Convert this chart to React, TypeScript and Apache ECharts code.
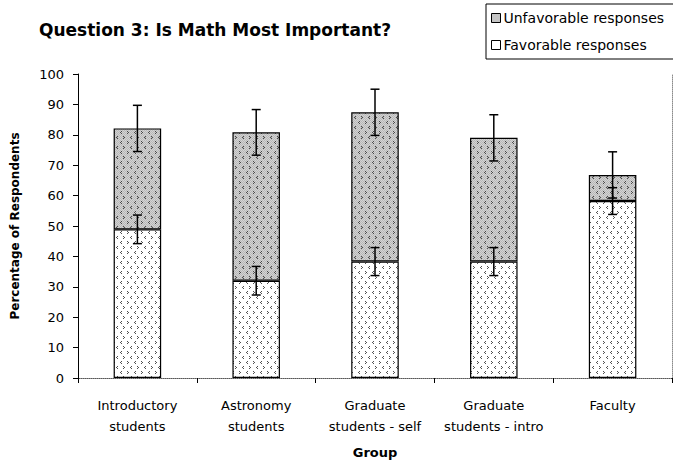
import React, { useEffect, useRef } from "react";
import * as echarts from "echarts";

const categories = [
  "Introductory\nstudents",
  "Astronomy\nstudents",
  "Graduate\nstudents - self",
  "Graduate\nstudents - intro",
  "Faculty",
];
const favorable = [48.9, 32.0, 38.3, 38.3, 58.2];
const unfavorable = [33.2, 48.8, 49.1, 40.7, 8.6];
const totalError = [7.6, 7.5, 7.6, 7.6, 7.6];
const favorableError = [4.7, 4.7, 4.6, 4.6, 4.4];
const yTicks = [0, 10, 20, 30, 40, 50, 60, 70, 80, 90, 100];

function makePattern(gray: boolean): HTMLCanvasElement {
  const c = document.createElement("canvas");
  c.width = 14;
  c.height = 10;
  const ctx = c.getContext("2d")!;
  if (gray) {
    for (let y = 0; y < 10; y++) {
      for (let x = 0; x < 14; x++) {
        ctx.fillStyle = (x + y) % 2 === 0 ? "#b9b9b9" : "#d2d2d2";
        ctx.fillRect(x, y, 1, 1);
      }
    }
  } else {
    ctx.fillStyle = "#ffffff";
    ctx.fillRect(0, 0, 14, 10);
  }
  ctx.fillStyle = gray ? "#4a4a4a" : "#505050";
  const right = (x: number, y: number) => {
    ctx.fillRect(x, y, 1, 1);
    ctx.fillRect(x + 1, y + 1, 1, 1);
    ctx.fillRect(x, y + 2, 1, 1);
  };
  const left = (x: number, y: number) => {
    ctx.fillRect(x + 1, y, 1, 1);
    ctx.fillRect(x, y + 1, 1, 1);
    ctx.fillRect(x + 1, y + 2, 1, 1);
  };
  right(1, 1);
  left(8, 1);
  left(4, 6);
  right(11, 6);
  return c;
}

export default function App() {
  const ref = useRef<HTMLDivElement>(null);
  useEffect(() => {
    if (!ref.current) return;
    const chart = echarts.init(ref.current, null, { renderer: "svg" });
    const grayPat: any = { image: makePattern(true), repeat: "repeat" };
    const whitePat: any = { image: makePattern(false), repeat: "repeat" };
    const totals = favorable.map((f, i) => f + unfavorable[i]);
    const errRender = (params: any, api: any) => {
      const x = api.value(0);
      const lo = api.coord([x, api.value(1)]);
      const hi = api.coord([x, api.value(2)]);
      const cap = 4.5;
      const style = { stroke: "#000", lineWidth: 1.5 };
      return {
        type: "group",
        children: [
          { type: "line", shape: { x1: lo[0], y1: lo[1], x2: hi[0], y2: hi[1] }, style },
          { type: "line", shape: { x1: hi[0] - cap, y1: hi[1], x2: hi[0] + cap, y2: hi[1] }, style },
          { type: "line", shape: { x1: lo[0] - cap, y1: lo[1], x2: lo[0] + cap, y2: lo[1] }, style },
        ],
      };
    };
    const font = "'DejaVu Sans', Arial, sans-serif";
    chart.setOption({
      animation: false,
      textStyle: { fontFamily: font },
      title: {
        text: "Question 3: Is Math Most Important?",
        left: 39,
        top: 21,
        padding: 0,
        textStyle: { fontSize: 17, fontWeight: "bold", color: "#000", fontFamily: font },
      },
      legend: {
        orient: "vertical",
        left: 486,
        top: 4,
        padding: [7, 30, 7, 5],
        itemGap: 13,
        itemWidth: 9,
        itemHeight: 9,
        icon: "rect",
        borderColor: "#000",
        borderWidth: 1,
        borderRadius: 0,
        textStyle: { fontSize: 14, color: "#000", fontFamily: font, padding: [0, 0, 0, -2] },
        data: [
          { name: "Unfavorable responses", itemStyle: { color: "#c4c4c4", borderColor: "#000", borderWidth: 1 } },
          { name: "Favorable responses", itemStyle: { color: "#ffffff", borderColor: "#000", borderWidth: 1 } },
        ],
      },
      grid: { left: 78, right: 1, top: 74, bottom: 88 },
      xAxis: [
        {
          type: "category",
          data: categories,
          name: "Group",
          nameLocation: "middle",
          nameGap: 68,
          nameTextStyle: { fontSize: 13, fontWeight: "bold", color: "#000", fontFamily: font },
          axisLine: { lineStyle: { color: "#000", width: 1 } },
          axisTick: { show: true, length: 5, lineStyle: { color: "#000" } },
          axisLabel: { fontSize: 13, color: "#000", margin: 17, lineHeight: 21, interval: 0, fontFamily: font },
        },
        {
          type: "category",
          data: categories,
          position: "top",
          axisLine: { lineStyle: { color: "#8c8c8c", type: "dotted", width: 1 } },
          axisTick: { show: false },
          axisLabel: { show: false },
        },
      ],
      yAxis: [
        {
          type: "value",
          min: 0,
          max: 100,
          interval: 10,
          name: "Percentage of Respondents",
          nameLocation: "middle",
          nameGap: 57,
          nameTextStyle: { fontSize: 12, fontWeight: "bold", color: "#000", fontFamily: font },
          axisLine: { show: true, lineStyle: { color: "#000", width: 1 } },
          axisTick: { show: true, length: 5, lineStyle: { color: "#000" } },
          axisLabel: {
            fontSize: 13,
            color: "#000",
            margin: 14,
            fontFamily: font,
            formatter: (v: number) => (yTicks.indexOf(v) >= 0 ? String(v) : ""),
          },
          splitLine: { show: false },
        },
        {
          type: "value",
          min: 0,
          max: 100,
          interval: 10,
          position: "right",
          axisLine: { show: true, lineStyle: { color: "#8c8c8c", type: "dotted", width: 1 } },
          axisTick: { show: false },
          axisLabel: { show: false },
          splitLine: { show: false },
        },
      ],
      series: [
        {
          name: "Favorable responses",
          type: "bar",
          stack: "s",
          barWidth: "40%",
          data: favorable,
          itemStyle: { color: whitePat, borderColor: "#000", borderWidth: 1.2 },
        },
        {
          name: "Unfavorable responses",
          type: "bar",
          stack: "s",
          barWidth: "40%",
          data: unfavorable,
          itemStyle: { color: grayPat, borderColor: "#000", borderWidth: 1.2 },
        },
        {
          name: "errTotal",
          type: "custom",
          z: 5,
          renderItem: errRender,
          encode: { x: 0, y: [1, 2] },
          data: totals.map((t, i) => [i, t - totalError[i], t + totalError[i]]),
        },
        {
          name: "errFav",
          type: "custom",
          z: 5,
          renderItem: errRender,
          encode: { x: 0, y: [1, 2] },
          data: favorable.map((f, i) => [i, f - favorableError[i], f + favorableError[i]]),
        },
      ],
    });
    return () => chart.dispose();
  }, []);
  return (
    <div
      ref={ref}
      style={{ position: "fixed", left: 0, top: 0, width: 673, height: 466, background: "#fff" }}
    />
  );
}
